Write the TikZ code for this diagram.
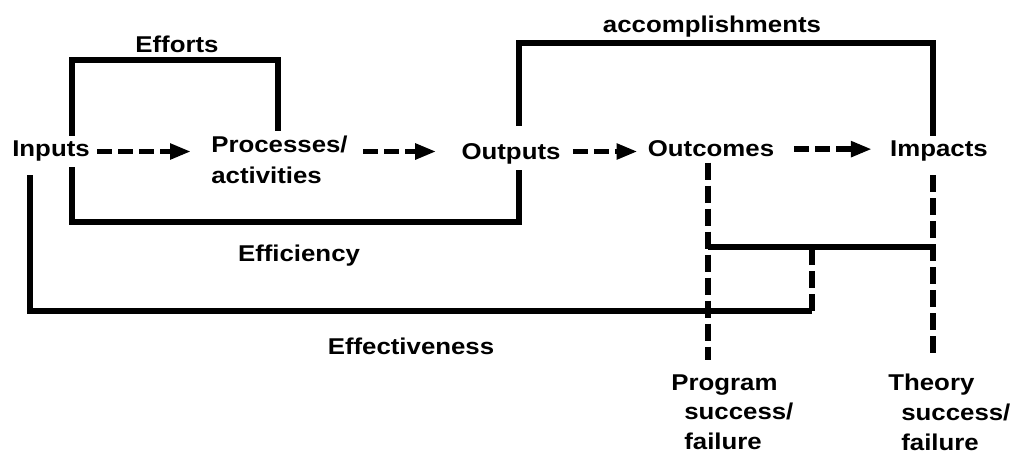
\documentclass[tikz,border=0pt]{standalone}
\usepackage{fontspec}
\setmainfont{Liberation Sans}[FakeStretch=1.13]
\usetikzlibrary{arrows.meta}

\begin{document}
\begin{tikzpicture}[x=0.02cm,y=-0.02cm,
    every node/.style={font=\fontsize{13}{17.5}\selectfont\bfseries, inner xsep=0.14cm, inner ysep=0.1cm},
    line/.style={line width=3pt},
    dline/.style={line width=3pt, dash pattern=on 0.34cm off 0.12cm},
    flow/.style={line width=3pt, dash pattern=on 0.3cm off 0.12cm, -{Triangle[length=0.42cm,width=0.3cm]}},
    label2/.style={anchor=north west, align=left, inner ysep=0.04cm, font=\fontsize{13}{17}\selectfont\bfseries}]
    \useasboundingbox (0,0) rectangle (1012,455);

    \coordinate (effortsL) at (72,60);
    \coordinate (effortsR) at (278,60);
    \coordinate (efficR) at (519,222);
    \coordinate (accR) at (933,43);
    \coordinate (effvL) at (30,311);
    \coordinate (effvR) at (812,311);
    \coordinate (linkL) at (708,247);

    \node[anchor=base] at (51,157) (Inp) {Inputs};
    \node[anchor=north west, align=left] at (204,131) (Prc) {Processes/\\activities};
    \node[anchor=base] at (511,160) (Out) {Outputs};
    \node[anchor=base] at (711,157) (Otc) {Outcomes};
    \node[anchor=base] at (939,157) (Imp) {Impacts};
    \node[anchor=base] at (177,53) (Eff) {Efforts};
    \node[anchor=base] at (712,33) (Acc) {accomplishments};
    \node[anchor=base] at (299,262) (Efc) {Efficiency};
    \node[anchor=base] at (411,355) (Efv) {Effectiveness};
    \node[label2] at (664,372) (Prg) {Program\\\hspace{0.26cm}success/\\\hspace{0.26cm}failure};
    \node[label2] at (881,372) (Thy) {Theory\\\hspace{0.26cm}success/\\\hspace{0.26cm}failure};

    % main chain
    \draw[flow, shorten >=0.26cm] (Inp.east) -- (Inp.east -| Prc.west);
    \draw[flow, shorten <=0.16cm, shorten >=0.36cm] (Prc.east |- Inp.east) -- (Inp.east -| Out.west);
    \draw[flow, shorten <=0.1cm, shorten >=0.06cm] (Out.east |- Inp.east) -- (Inp.east -| Otc.west);
    \draw[flow, shorten <=0.26cm, shorten >=0.22cm] (Otc.east) -- (Otc.east -| Imp.west);

    % brackets
    \draw[line] (Inp.north -| effortsL) -- (effortsL) -- (effortsR) -- (effortsR |- Prc.north);
    \draw[line] (Inp.south -| effortsL) |- (efficR) -- (efficR |- Out.south);
    \draw[line] (Out.north -| efficR) ++(0,-13) |- (accR) -- (accR |- Imp.north);
    \draw[line] (Inp.south -| effvL) ++(0,8) |- (effvR);
    \draw[dline] (effvR) -- (effvR |- linkL);
    \draw[line] (linkL) -- (linkL -| accR);

    % success / failure
    \draw[dline, shorten >=0.24cm] (Otc.south -| linkL) -- (linkL |- Prg.north);
    \draw[dline, shorten <=0.16cm, shorten >=0.28cm] (accR |- Imp.south) -- (accR |- Thy.north);
  \end{tikzpicture}
\end{document}
